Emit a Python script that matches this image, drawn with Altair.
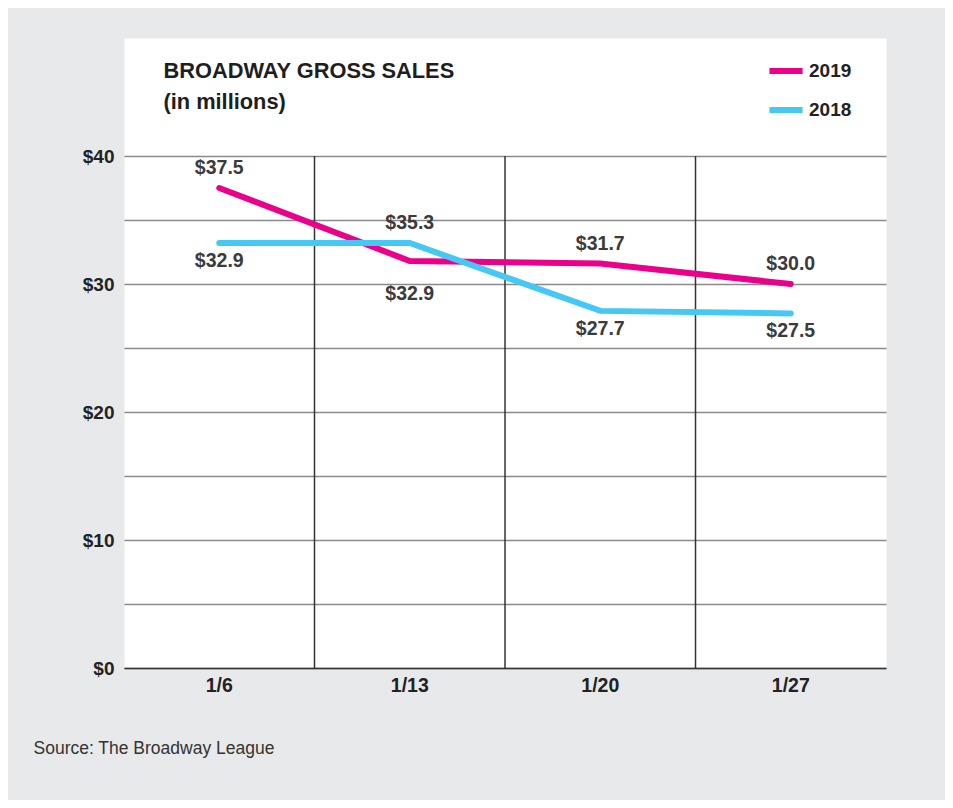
import altair as alt
import pandas as pd

# ---- data ----
weeks = ["1/6", "1/13", "1/20", "1/27"]
years = ["2019", "2018"]
sales_2019 = [37.5, 31.8, 31.6, 30.0]
sales_2018 = [33.2, 33.2, 27.9, 27.7]
labels_2019 = ["$37.5", "$32.9", "$31.7", "$30.0"]
labels_2018 = ["$32.9", "$35.3", "$27.7", "$27.5"]
colors = ["#ea008a", "#45c8f3"]

TITLE = ["BROADWAY GROSS SALES", "(in millions)"]
SOURCE = "Source: The Broadway League"
FONT = "Liberation Sans"


def placement(own, other):
    if own >= other:
        return "above"
    # lower line: push label further down when the two lines nearly touch
    return "below_far" if other - own < 2 else "below"


rows = []
for i, w in enumerate(weeks):
    a, b = sales_2019[i], sales_2018[i]
    rows.append({"week": w, "year": "2019", "sales": a, "label": labels_2019[i],
                 "pos": placement(a, b)})
    rows.append({"week": w, "year": "2018", "sales": b, "label": labels_2018[i],
                 "pos": "above" if b > a else placement(b, a)})
df = pd.DataFrame(rows)
bounds = pd.DataFrame({"week": weeks[1:]})

W, H = 762, 630
PX_PER_UNIT = 12.8

x_scale = alt.Scale(type="band", domain=weeks, paddingInner=0, paddingOuter=0)
y_scale = alt.Scale(domain=[0, H / PX_PER_UNIT], nice=False, zero=True)

x_axis = alt.Axis(
    grid=False, domain=True, domainColor="#333333", domainWidth=1.5,
    ticks=False, tickSize=0, labelPadding=8, labelAngle=0,
    labelFont=FONT, labelFontSize=19.5, labelFontWeight="bold", labelColor="#222222",
    title=SOURCE, titleX=-91, titleY=85, titleAlign="left", titleBaseline="alphabetic",
    titleFont=FONT, titleFontSize=17.5, titleFontWeight="normal", titleColor="#333333",
)
y_axis = alt.Axis(
    values=list(range(0, 45, 5)),
    labelExpr="datum.value % 10 == 0 ? '$' + datum.value : ''",
    grid=True, gridColor="#8a8a8a", gridWidth=1.3,
    domain=False, ticks=False, labelPadding=10,
    labelFont=FONT, labelFontSize=19, labelFontWeight="bold", labelColor="#222222",
    title=TITLE, titleX=39, titleY=39, titleAngle=0, titleAlign="left",
    titleBaseline="alphabetic", titleFont=FONT, titleFontSize=21.8,
    titleFontWeight="bold", titleColor="#1e1e1e", titleLineHeight=31,
)

x_enc = alt.X("week:N", scale=x_scale, axis=x_axis)
y_enc = alt.Y("sales:Q", scale=y_scale, axis=y_axis)

rules = alt.Chart(bounds).mark_rule(color="#333333", strokeWidth=1.5).encode(
    x=alt.X("week:N", scale=x_scale, axis=x_axis, bandPosition=0),
    y=alt.YDatum(0, scale=y_scale, axis=y_axis),
    y2=alt.Y2Datum(40),
)

lines = alt.Chart(df).mark_line(strokeWidth=6, strokeCap="round").encode(
    x=x_enc,
    y=y_enc,
    color=alt.Color(
        "year:N",
        scale=alt.Scale(domain=years, range=colors),
        sort=years,
        legend=alt.Legend(
            title=None, orient="none", legendX=642, legendY=13,
            symbolType="stroke", symbolSize=1100, symbolStrokeWidth=6,
            labelFont=FONT, labelFontSize=19, labelFontWeight="bold",
            labelColor="#222222", labelOffset=3, rowPadding=7, padding=0,
        ),
    ),
)


def label_layer(pos, dy):
    return alt.Chart(df).mark_text(
        font=FONT, fontSize=19.5, fontWeight="bold", color="#3b3b3b", dy=dy
    ).encode(x=x_enc, y=y_enc, text="label:N").transform_filter(
        alt.datum.pos == pos
    )


chart = alt.layer(
    rules, lines,
    label_layer("above", -20),
    label_layer("below", 18),
    label_layer("below_far", 33),
).properties(
    width=W, height=H,
    autosize=alt.AutoSizeParams(type="none"),
    padding={"left": 116, "top": 30, "right": 59, "bottom": 132},
    background="#e8e9eb",
).configure_view(fill="white", stroke="transparent")

chart.save("out.html", embed_options={"renderer": "svg", "actions": False})
